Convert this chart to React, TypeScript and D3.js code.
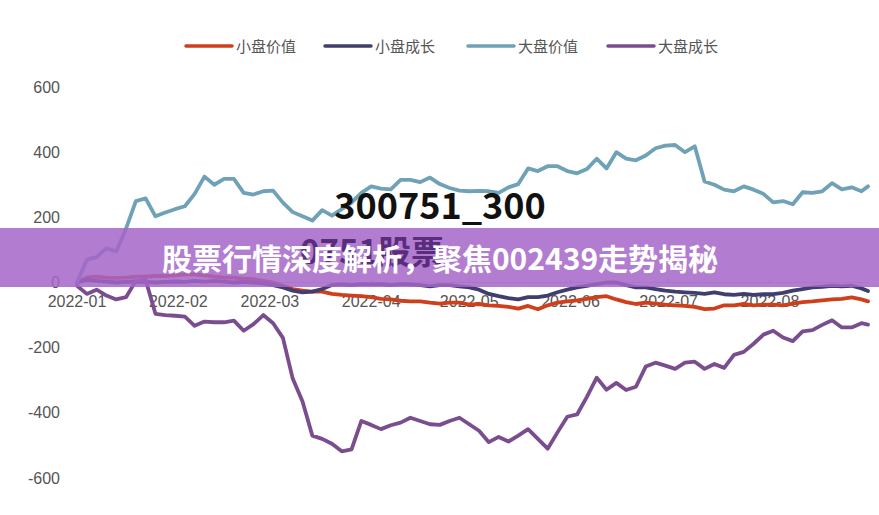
import React from "react";
import * as d3 from "d3";

const W = 879;
const H = 515;

const seriesNames = ["小盘价值", "小盘成长", "大盘价值", "大盘成长"];
const seriesColors = ["#cf3f1c", "#3f3e6c", "#6fa2b6", "#7a4d8e"];
const yTicks = [600, 400, 200, 0, -200, -400, -600];
const monthLabels = ["2022-01", "2022-02", "2022-03", "2022-04", "2022-05", "2022-06", "2022-07", "2022-08"];

// day offsets from 2022-01-01 (every 3 days, last point 242)
const dayOffsets = [
  0, 3, 6, 9, 12, 15, 18, 21, 24, 27, 30, 33, 36, 39, 42, 45, 48, 51, 54, 57,
  60, 63, 66, 69, 72, 75, 78, 81, 84, 87, 90, 93, 96, 99, 102, 105, 108, 111, 114, 117,
  120, 123, 126, 129, 132, 135, 138, 141, 144, 147, 150, 153, 156, 159, 162, 165, 168, 171, 174, 177,
  180, 183, 186, 189, 192, 195, 198, 201, 204, 207, 210, 213, 216, 219, 222, 225, 228, 231, 234, 237,
  240, 242,
];

const smallValue = [
  0, 15, 18, 15, 14, 15, 18, 18, 20, 20, 22, 25, 25, 22, 18, 15, 15, 12, 10, 5,
  0, -10, -20, -25, -28, -28, -35, -38, -40, -42, -45, -50, -52, -56, -58, -58, -62, -65, -62, -62,
  -68, -66, -70, -72, -75, -80, -72, -82, -70, -62, -58, -55, -50, -45, -42, -52, -60, -66, -62, -65,
  -68, -70, -72, -75, -82, -80, -70, -70, -66, -70, -68, -68, -70, -65, -60, -58, -55, -52, -50, -46,
  -52, -58,
];

const smallGrowth = [
  0, 8, 5, 3, 0, 2, 3, 2, 0, 2, 3, 2, 5, 3, 5, 3, 0, 2, 0, -3,
  -8, -15, -25, -30, -28, -20, -8, -6, -8, -5, -6, -5, -8, -5, -6, -8, -12, -8, -8, -12,
  -15, -22, -35, -42, -48, -52, -45, -45, -40, -30, -22, -15, -10, -5, 0, 0, -8, -15, -15, -20,
  -25, -28, -30, -32, -35, -30, -36, -38, -35, -38, -36, -36, -32, -25, -20, -15, -13, -10, -12, -10,
  -18, -26,
];

const largeValue = [
  0, 70, 78, 105, 95, 165, 250, 258, 203, 215, 225, 234, 272, 325, 300, 318, 318, 275, 270, 280,
  282, 245, 216, 203, 190, 222, 205, 225, 245, 275, 295, 288, 286, 315, 315, 308, 322, 302, 290, 282,
  280, 281, 280, 275, 292, 302, 350, 342, 357, 357, 342, 335, 348, 380, 350, 400, 380, 375, 390, 412,
  420, 422, 400, 418, 310, 300, 285, 280, 295, 285, 272, 246, 250, 240, 277, 275, 280, 305, 286, 292,
  280, 295,
];

const largeGrowth = [
  -10, -35, -22, -40, -52, -45, 5, 8, -96, -100, -102, -105, -133, -120, -122, -122, -117, -148, -128, -100,
  -125, -170, -295, -365, -470, -480, -495, -518, -512, -425, -437, -450, -438, -430, -415, -425, -435, -437, -425, -415,
  -435, -455, -490, -474, -488, -470, -450, -480, -510, -460, -412, -405, -351, -292, -329, -308, -330, -320, -258, -246,
  -255, -265, -246, -243, -265, -250, -262, -222, -213, -188, -160, -148, -169, -180, -150, -146, -130, -116, -138, -138,
  -125, -129,
];

const allSeries = [smallValue, smallGrowth, largeValue, largeGrowth];

export default function App() {
  const start = new Date(2022, 0, 1);
  const end = new Date(2022, 7, 31);
  const x = d3.scaleTime().domain([start, end]).range([77, 868]);
  const y = d3.scaleLinear().domain([-600, 600]).range([478, 87]);
  const dates = dayOffsets.map((d) => d3.timeDay.offset(start, d));
  const line = d3
    .line<number>()
    .x((_, i) => x(dates[i]))
    .y((v) => y(v));
  const monthDates = monthLabels.map((m) => new Date(+m.slice(0, 4), +m.slice(5) - 1, 1));

  const legendX = [186, 325, 468, 608];
  const font = "'Liberation Sans', 'Noto Sans CJK SC', sans-serif";

  return (
    <svg
      width={W}
      height={H}
      style={{ position: "absolute", left: 0, top: 0, background: "#fff" }}
      fontFamily={font}
    >
      <rect x={0} y={0} width={W} height={H} fill="#fff" />
      {/* legend */}
      {seriesNames.map((name, i) => (
        <g key={name}>
          <line
            x1={legendX[i]}
            x2={legendX[i] + 46}
            y1={46}
            y2={46}
            stroke={seriesColors[i]}
            strokeWidth={3.5}
            strokeLinecap="round"
          />
          <text x={legendX[i] + 50} y={51.5} fontSize={15} fill="#555" fontFamily="'Noto Sans CJK SC', sans-serif">
            {name}
          </text>
        </g>
      ))}
      {/* y axis labels */}
      {yTicks.map((t) => (
        <text key={t} x={60} y={y(t) + 5.5} textAnchor="end" fontSize={16} fill="#555">
          {t}
        </text>
      ))}
      {/* x axis */}
      <line x1={77} x2={868} y1={y(0)} y2={y(0)} stroke="#d0d0d0" strokeWidth={1} />
      {monthDates.map((d, i) => (
        <g key={i}>
          <line x1={x(d)} x2={x(d)} y1={y(0) - 4} y2={y(0)} stroke="#bbb" />
          <text x={x(d)} y={307} textAnchor="middle" fontSize={16} fill="#555">
            {monthLabels[i]}
          </text>
        </g>
      ))}
      {/* series lines */}
      {allSeries.map((s, i) => (
        <path
          key={i}
          d={line(s) || ""}
          fill="none"
          stroke={seriesColors[i]}
          strokeWidth={3.8}
          strokeLinejoin="round"
          strokeLinecap="round"
        />
      ))}
      {/* banner */}
      <rect x={0} y={228} width={W} height={59} fill="#a565c8" opacity={0.85} />
      {/* partly hidden second title line */}
      <text
        x={372}
        y={264}
        textAnchor="middle"
        fontSize={33}
        fontWeight={700}
        fill="#4a1f6e"
        opacity={0.85}
        fontFamily="'Noto Sans CJK SC', sans-serif"
      >
        0751股票
      </text>
      <text
        x={440}
        y={270}
        textAnchor="middle"
        fontSize={30}
        fontWeight={700}
        fill="#fff"
        fontFamily="'Noto Sans CJK SC', sans-serif"
      >
        股票行情深度解析，聚焦002439走势揭秘
      </text>
      {/* title */}
      <text
        x={440}
        y={219}
        textAnchor="middle"
        fontSize={36}
        fontWeight={700}
        fill="#111"
        fontFamily="'Noto Sans CJK SC', sans-serif"
      >
        300751_300
      </text>
    </svg>
  );
}
